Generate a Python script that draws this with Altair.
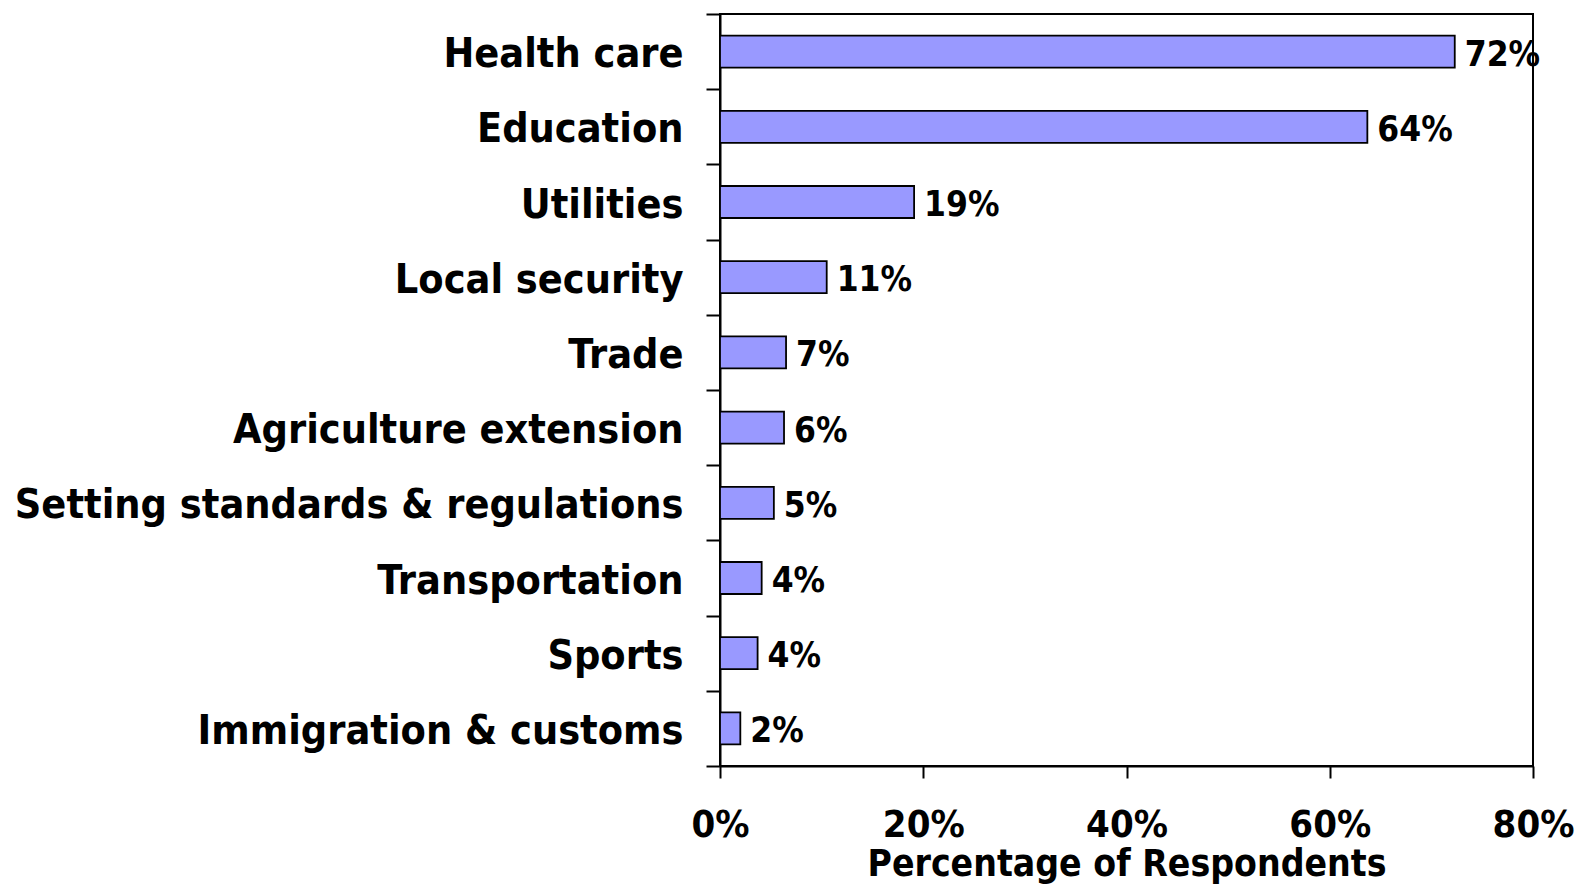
import altair as alt
import pandas as pd

categories = [
    "Health care",
    "Education",
    "Utilities",
    "Local security",
    "Trade",
    "Agriculture extension",
    "Setting standards & regulations",
    "Transportation",
    "Sports",
    "Immigration & customs",
]
values = [72.3, 63.7, 19.1, 10.5, 6.5, 6.3, 5.3, 4.1, 3.7, 2.0]
labels = ["72%", "64%", "19%", "11%", "7%", "6%", "5%", "4%", "4%", "2%"]
x_ticks = [0, 20, 40, 60, 80]

df = pd.DataFrame({"category": categories, "value": values, "label": labels})

FONT = "DejaVu Sans Condensed, DejaVu Sans, sans-serif"

y_enc = alt.Y(
    "category:N",
    sort=categories,
    scale=alt.Scale(paddingInner=0, paddingOuter=0),
    axis=alt.Axis(
        title=None,
        tickBand="extent",
        tickSize=14,
        tickWidth=2,
        tickColor="black",
        domainColor="black",
        domainWidth=2,
        labelFont=FONT,
        labelFontSize=41,
        labelFontWeight="bold",
        labelColor="black",
        labelPadding=23,
        labelOffset=3,
        labelLimit=900,
        grid=False,
    ),
)

x_enc = alt.X(
    "value:Q",
    scale=alt.Scale(domain=[0, 80], nice=False),
    axis=alt.Axis(
        title="Percentage of Respondents",
        values=x_ticks,
        labelExpr="datum.value + '%'",
        labelFlush=False,
        labelOverlap=False,
        tickSize=12,
        tickWidth=2,
        tickColor="black",
        domainColor="black",
        domainWidth=2,
        labelFont=FONT,
        labelFontSize=38,
        labelFontWeight="bold",
        labelColor="black",
        labelPadding=28,
        titleFont=FONT,
        titleFontSize=37,
        titleFontWeight="bold",
        titleColor="black",
        titlePadding=2,
        grid=False,
    ),
)

bars = alt.Chart(df).mark_bar(
    color="#9999FF", stroke="black", strokeWidth=1.8, height=32
).encode(x=x_enc, y=y_enc)

text = alt.Chart(df).mark_text(
    align="left", baseline="middle", dx=10, dy=3, font=FONT, fontSize=35,
    fontWeight="bold", color="black"
).encode(x="value:Q", y=alt.Y("category:N", sort=categories), text="label:N")

chart = (
    alt.layer(bars, text)
    .properties(
        width=813,
        height=752,
        autosize=alt.AutoSizeParams(type="none"),
        padding={"left": 712, "top": 6, "right": 54, "bottom": 119},
        background="white",
    )
    .configure_view(stroke="black", strokeWidth=2)
)

chart.save("out.html", embed_options={"renderer": "svg", "actions": False})
